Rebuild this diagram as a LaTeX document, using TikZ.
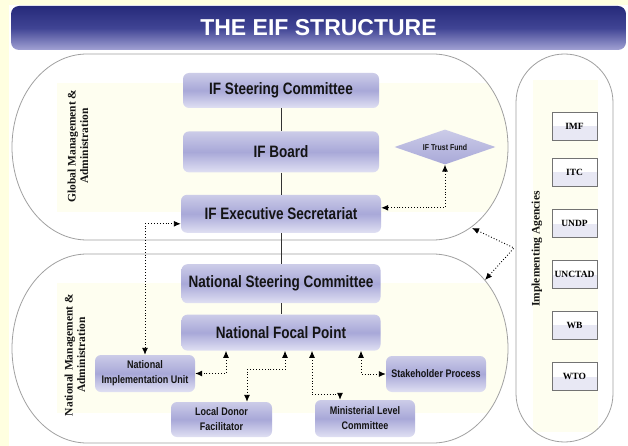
\documentclass[tikz,border=0pt]{standalone}
\usepackage{fontspec}
\newfontfamily\boxfont[FakeStretch=0.82]{Liberation Sans}
\newfontfamily\headfont{Liberation Sans}
\newfontfamily\tagfont{Liberation Serif}
\usetikzlibrary{positioning, shapes.geometric, arrows.meta}
\definecolor{page}{RGB}{255,255,224}
\definecolor{band}{RGB}{254,254,240}
\definecolor{frame}{RGB}{160,160,160}
\definecolor{navy}{RGB}{38,42,122}
\definecolor{navymid}{RGB}{64,68,148}
\definecolor{navylow}{RGB}{162,162,212}
\definecolor{boxtop}{RGB}{204,204,232}
\definecolor{boxmid}{RGB}{168,168,216}
\definecolor{boxlow}{RGB}{224,224,243}
\definecolor{agencylow}{RGB}{232,232,244}
\definecolor{ink}{RGB}{20,20,20}

\tikzset{
  unit/.style={draw=none, rounded corners=6pt, top color=boxtop,
    bottom color=boxlow, middle color=boxmid, align=center,
    inner sep=0pt, text=ink},
  bigunit/.style={unit, minimum width=196pt,
    font=\boxfont\bfseries\fontsize{16.5}{18}\selectfont},
  smallunit/.style={unit, minimum width=100pt, minimum height=36pt,
    font=\boxfont\bfseries\fontsize{11}{15}\selectfont},
  agency/.style={draw=black!55, line width=0.8pt, minimum width=45pt,
    minimum height=28pt, inner sep=0pt, fill=white,
    font=\tagfont\bfseries\fontsize{9.5}{10}\selectfont,
    path picture={\fill[agencylow] (path picture bounding box.west)
      rectangle (path picture bounding box.south east);}},
  sidelabel/.style={rotate=90, align=center, text=ink,
    font=\tagfont\bfseries\fontsize{11.5}{12.5}\selectfont},
  stadium/.style={draw=frame, line width=0.8pt, fill=white},
  link/.style={dotted, line width=0.9pt,
    {Latex[length=7pt,width=6pt]}-{Latex[length=7pt,width=6pt]}},
  spine/.style={line width=0.8pt, black!80}
}

\begin{document}
\begin{tikzpicture}[x=1pt, y=-1pt]
    \useasboundingbox (0,0) rectangle (628,446);
    \fill[page] (0,0) rectangle (628,446);
    \fill[white] (9,5) rectangle (628,446);

    % title bar
    \node[rounded corners=8pt, minimum width=615pt, minimum height=44pt,
      top color=navy, bottom color=navylow, middle color=navymid,
      text=white, font=\headfont\bfseries\fontsize{23}{26}\selectfont]
      (title) at (318.5,28) {THE EIF STRUCTURE};

    % the three frames
    \draw[stadium, path picture={\fill[band] (57,83) rectangle (520,212);}]
      (87,54) -- (433,54) arc[start angle=-90, end angle=90, x radius=75, y radius=93]
      -- (87,240) arc[start angle=90, end angle=270, x radius=75, y radius=93] -- cycle;
    \draw[stadium, path picture={\fill[band] (57,283) rectangle (520,413);}]
      (87,254) -- (433,254) arc[start angle=-90, end angle=90, x radius=75, y radius=94.5]
      -- (87,443) arc[start angle=90, end angle=270, x radius=75, y radius=94.5] -- cycle;
    \draw[stadium, path picture={\fill[band] (533,80) rectangle (598,432);}]
      (516,102.5) arc[start angle=180, end angle=360, radius=48.5]
      -- (613,393.5) arc[start angle=0, end angle=180, radius=48.5] -- cycle;

    \node[sidelabel] (globlabel) at (78,146) {Global Management \&\\Administration};
    \node[sidelabel] (natlabel) at (75,355) {National Management \&\\Administration};
    \node[sidelabel] (ialabel) at (537,249) {Implementing Agencies};

    % main column
    \node[bigunit, minimum height=35pt] (sc) at (281,90.5) {IF Steering Committee};
    \node[bigunit, minimum height=41pt, below=23pt of sc] (board) {IF Board};
    \node[bigunit, minimum height=38pt, minimum width=200pt, below=22pt of board] (exec) {IF Executive Secretariat};
    \node[bigunit, minimum height=39pt, minimum width=199pt, below=31pt of exec] (nsc) {National Steering Committee};
    \node[bigunit, minimum height=36pt, minimum width=199pt, below=11pt of nsc] (nfp) {National Focal Point};

    \node[diamond, aspect=2.9, inner sep=0pt, minimum width=101pt, minimum height=35pt,
      top color=boxtop, bottom color=boxmid, text=ink,
      font=\boxfont\bfseries\fontsize{8.5}{10}\selectfont] (tf) at (445,147) {IF Trust Fund};

    \node[smallunit, minimum height=37pt] (niu) at (145,373.5) {National\\Implementation Unit};
    \node[smallunit, minimum width=101pt, minimum height=35pt] (ldf) at (221.5,419.5) {Local Donor\\Facilitator};
    \node[smallunit, minimum height=37pt] (mlc) at (365,418.5) {Ministerial Level\\Committee};
    \node[smallunit] (sp) at (436,374) {Stakeholder Process};

    \foreach \name/\y in {IMF/126.5, ITC/172.5, UNDP/223.5, UNCTAD/274.5, WB/325, WTO/376.5}
      \node[agency] (\name) at (574.5,\y) {\name};

    \coordinate (globedge) at (472,228);
    \coordinate (iaapex) at (514,248);
    \coordinate (natedge) at (485,280);

    \foreach \a/\b in {sc/board, board/exec, exec/nsc, nsc/nfp}
      \draw[spine] (\a) -- (\b);

    \draw[link] (tf.south) |- ([yshift=6pt]exec.east);
    \draw[link] (niu.north) |- ([yshift=-10pt]exec.west);
    \draw[link] ([xshift=-55pt]nfp.south) |- (niu.east);
    \draw[link] ([xshift=4pt]nfp.south) -- ++(0,19) -| ([xshift=25.5pt]ldf.north);
    \draw[link] ([xshift=31pt]nfp.south) -- ++(0,44) -| ([xshift=-25pt]mlc.north);
    \draw[link] ([xshift=80pt]nfp.south) |- (sp.west);
    \draw[link] (globedge) -- (iaapex) -- (natedge);
\end{tikzpicture}
\end{document}
